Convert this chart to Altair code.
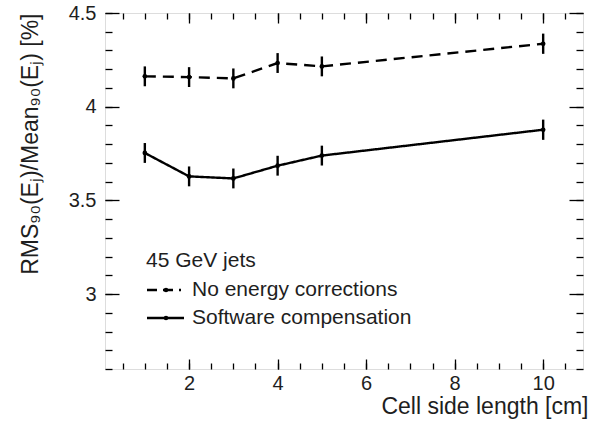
import altair as alt
import pandas as pd

# ---- data ----
cell_size = [1, 2, 3, 4, 5, 10]
no_corr = [4.162, 4.158, 4.151, 4.233, 4.215, 4.336]
no_corr_err = [0.053, 0.053, 0.053, 0.053, 0.053, 0.054]
sw_comp = [3.753, 3.628, 3.617, 3.685, 3.739, 3.877]
sw_comp_err = [0.053, 0.053, 0.053, 0.053, 0.053, 0.054]
series_names = ["No energy corrections", "Software compensation"]
legend_title = "45 GeV jets"

x_major = [2, 4, 6, 8, 10]
x_minor = [0.5, 1, 1.5, 2, 2.5, 3, 3.5, 4, 4.5, 5, 5.5, 6, 6.5, 7, 7.5, 8,
           8.5, 9, 9.5, 10, 10.5]
y_major = [3, 3.5, 4, 4.5]
y_minor = [2.6, 2.7, 2.8, 2.9, 3.0, 3.1, 3.2, 3.3, 3.4, 3.5, 3.6, 3.7, 3.8,
           3.9, 4.0, 4.1, 4.2, 4.3, 4.4, 4.5]
x_domain = [0.1, 10.9]
y_domain = [2.6, 4.5]

FONT = "Liberation Sans"
TXT = "#1e1e1e"

rows = []
for name, vals, errs in [(series_names[0], no_corr, no_corr_err),
                         (series_names[1], sw_comp, sw_comp_err)]:
    for x, v, e in zip(cell_size, vals, errs):
        rows.append({"series": name, "x": x, "y": v, "lo": v - e, "hi": v + e})
df = pd.DataFrame(rows)

xs = alt.Scale(domain=x_domain, nice=False, zero=False)
ys = alt.Scale(domain=y_domain, nice=False, zero=False)
dash = alt.Scale(domain=series_names, range=[[11, 7], [1, 0]])


def xaxis(orient, values, size, labels=False, title=None):
    kw = dict(orient=orient, values=values, tickSize=size, offset=-size,
              domain=False, grid=False, labels=labels, tickColor="black",
              tickWidth=1.3, ticks=True)
    if labels:
        kw.update(labelFont=FONT, labelFontSize=20, labelColor=TXT,
                  labelPadding=4, format="d")
    if title:
        kw.update(title=title, titleFont=FONT, titleFontSize=23,
                  titleFontWeight="normal", titleColor=TXT,
                  titleAlign="right", titleX=483, titlePadding=2)
    else:
        kw.update(title=None)
    return alt.Axis(**kw)


def yaxis(orient, values, size, labels=False, title=None):
    kw = dict(orient=orient, values=values, tickSize=size, offset=-size,
              domain=False, grid=False, labels=labels, tickColor="black",
              tickWidth=1.3, ticks=True)
    if labels:
        kw.update(labelFont=FONT, labelFontSize=20, labelColor=TXT,
                  labelPadding=9, format=".1~f")
    if title:
        kw.update(title=title, titleFont=FONT, titleFontSize=23,
                  titleFontWeight="normal", titleColor=TXT, titleAnchor="end",
                  titlePadding=26)
    else:
        kw.update(title=None)
    return alt.Axis(**kw)


base = alt.Chart(df)

lines = base.mark_line(color="black", strokeWidth=2.4).encode(
    x=alt.X("x:Q", scale=xs,
            axis=xaxis("bottom", x_major, 10, labels=True,
                       title="Cell side length [cm]")),
    y=alt.Y("y:Q", scale=ys,
            axis=yaxis("left", y_major, 14, labels=True,
                       title="RMS₉₀(Eⱼ)/Mean₉₀(Eⱼ) [%]")),
    strokeDash=alt.StrokeDash("series:N", scale=dash, legend=None),
    detail="series:N",
)

minor1 = base.mark_point(opacity=0).encode(
    x=alt.X("x:Q", scale=xs, axis=xaxis("bottom", x_minor, 6)),
    y=alt.Y("y:Q", scale=ys, axis=yaxis("left", y_minor, 7)),
)
major2 = base.mark_point(opacity=0).encode(
    x=alt.X("x:Q", scale=xs, axis=xaxis("top", x_major, 10)),
    y=alt.Y("y:Q", scale=ys, axis=yaxis("right", y_major, 14)),
)
minor2 = base.mark_point(opacity=0).encode(
    x=alt.X("x:Q", scale=xs, axis=xaxis("top", x_minor, 6)),
    y=alt.Y("y:Q", scale=ys, axis=yaxis("right", y_minor, 7)),
)

errs = base.mark_rule(color="black", strokeWidth=2.4).encode(
    x=alt.X("x:Q", scale=xs, axis=None),
    y=alt.Y("lo:Q", scale=ys, axis=None),
    y2="hi:Q",
)
pts = base.mark_point(filled=True, color="black", size=22, opacity=1).encode(
    x=alt.X("x:Q", scale=xs, axis=None),
    y=alt.Y("y:Q", scale=ys, axis=None),
)

# ---- legend (annotation, placed in plot-area pixels) ----
leg_title = alt.Chart(pd.DataFrame({"t": [legend_title]})).mark_text(
    font=FONT, fontSize=21, color=TXT, align="left", baseline="middle"
).encode(text="t:N", x=alt.value(41), y=alt.value(248))

leg_dash = alt.Chart(pd.DataFrame({"t": [series_names[0]]})).mark_rule(
    color="black", strokeWidth=2.4, strokeDash=[10, 6]
).encode(x=alt.value(42), x2=alt.value(76), y=alt.value(277))
leg_solid = alt.Chart(pd.DataFrame({"t": [series_names[1]]})).mark_rule(
    color="black", strokeWidth=2.4
).encode(x=alt.value(42), x2=alt.value(79), y=alt.value(305))
leg_dot = alt.Chart(pd.DataFrame({"t": series_names, "yy": [277, 305]})).mark_point(
    filled=True, color="black", size=20, opacity=1
).encode(x=alt.value(61), y=alt.Y("yy:Q", scale=None, axis=None))
leg_text = alt.Chart(pd.DataFrame({"t": series_names, "yy": [277, 305]})).mark_text(
    font=FONT, fontSize=21, color=TXT, align="left", baseline="middle"
).encode(text="t:N", x=alt.value(87), y=alt.Y("yy:Q", scale=None, axis=None))

chart = alt.layer(
    lines, minor1, major2, minor2, errs, pts,
    leg_title, leg_dash, leg_solid, leg_dot, leg_text,
).resolve_axis(x="independent", y="independent").properties(
    width=478, height=356,
    autosize=alt.AutoSizeParams(type="none"),
    padding={"left": 105, "top": 13, "right": 11, "bottom": 54},
).configure_view(stroke="black", strokeWidth=1.6).configure(background="white")

chart.save("out.html", embed_options={"renderer": "svg", "actions": False})
